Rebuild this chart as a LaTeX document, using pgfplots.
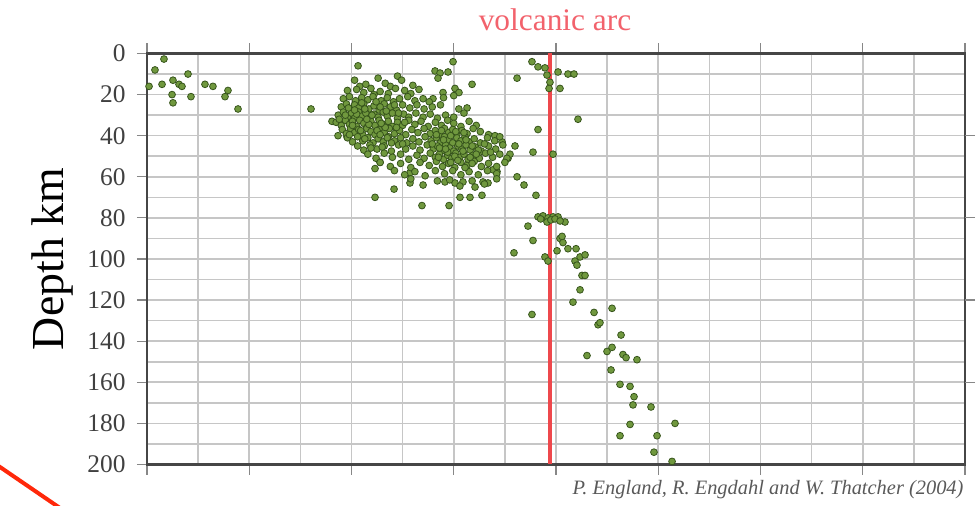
\documentclass[border=0pt]{standalone}
\usepackage{pgfplots}
\pgfplotsset{compat=1.18}
\usepackage{pgfplotstable}
\usepackage{fontspec}
\setmainfont{Liberation Serif}

\definecolor{gridgray}{RGB}{198,198,198}
\definecolor{framegray}{RGB}{70,70,70}
\definecolor{tickgray}{RGB}{135,135,135}
\definecolor{quakefill}{RGB}{112,152,62}
\definecolor{quakeedge}{RGB}{55,85,28}
\definecolor{arcred}{RGB}{238,72,76}
\definecolor{arctext}{RGB}{242,98,108}
\definecolor{slash}{RGB}{255,40,10}

% hypocentres: distance along profile (km), depth (km)
\pgfplotstableread{
x y
16.6 2.7
7.8 8
40.1 10
2.0 16
14.7 15
25.4 13
31.3 15
34.2 16
24.5 20
25.4 24
43.0 21
56.7 15
64.5 16
79.2 18
76.3 21
89.0 27
160.4 27
206.4 6
299.3 4
281.7 8.5
286.6 9.5
294.4 9
284.6 12
317.9 15
301.2 17
305.1 19
279.7 22
289.5 19
313.0 26.5
376.5 4
382.4 6.5
389.2 7
391.2 10.5
402.0 9
411.7 10
417.6 10
394.1 14
403.9 17
393.2 17
361.9 12
382.4 37
377.5 48
397.1 49
361.9 60
368.7 64
380.4 69
421.5 32
223.0 70
241.6 66
268.9 74
295.4 74
306.1 70
315.9 70
327.6 69
301.2 63
309.0 62.5
320.8 65
328.6 62.5
333.5 63
257.2 58
257.2 63
227.9 53
223.0 56
180.9 33
186.8 40
195.6 40.5
340.3 40
347.2 43
359.9 45
353.1 51
342.3 57.5
355.0 49
338.4 56.6
291.4 62.5
203 13
214 15
226 12
233 14.5
245 11
249 13
238 16
260 15.5
208 16
196 18
205 17.5
212 19
219 17
228 18.5
236 19.5
243 17
252 18
258 19.5
266 17.5
222 20
192 22
198 21
204 23
210 21.5
216 22.5
221 21
229 23
235 21.5
241 23.5
247 22
255 21
262 23
270 22
276 23.5
290 21.5
300 20.5
190 26
195 24.5
199 27
203 25
207 26.5
212 24.5
217 27
222 25.5
227 27.5
232 24.5
238 26
244 27.5
250 25
257 26.5
264 25
271 27
279 26
287 25
305 27
187 30
192 28.5
196 31
200 29
203 31.5
207 28.5
210 30.5
214 29
218 31.5
222 29.5
226 31
231 28.5
235 30.5
240 29
245 31.5
251 29.5
256 31
263 29
270 31
277 29.5
284 31.5
292 30
300 31
310 29
185 33.5
190 35
194 32.5
198 34.5
201 33
205 35.5
208 32.5
212 34
215 36
219 33
223 35
227 32.5
231 34.5
236 33
240 35.5
245 33.5
250 35
256 32.5
262 34.5
268 33
275 35.5
282 33.5
288 35
294 32.5
300 34
307 35.5
315 33
322 35
191 37
195 39
199 36.5
203 38.5
207 37
211 39.5
215 36.5
219 38
223 39.5
227 37
232 38.5
237 36.5
242 39
247 37.5
253 39.5
259 37
265 38.5
271 36.5
277 39
282 37.5
287 39.5
291 36.5
295 38.5
299 37
303 39.5
308 37.5
313 39
319 36.5
326 38
334 39.5
196 41
201 43
206 40.5
211 42.5
216 41
221 43.5
226 41.5
231 43
236 40.5
242 42.5
248 41
254 43.5
260 41.5
266 43
272 40.5
278 42.5
283 41
287 43.5
291 40.5
295 42
299 43.5
303 41
307 42.5
311 40.5
315 43
320 41.5
326 43.5
333 41
340 42.5
345 40.5
206 45
212 47
218 44.5
225 46.5
232 45
239 47.5
246 44.5
253 46.5
260 45
267 47
274 44.5
280 46.5
284 45
288 47.5
292 44.5
296 46
300 47.5
304 45
308 46.5
312 44.5
316 47
321 45.5
327 47.5
334 45
341 46.5
348 44.5
216 49
224 51
232 48.5
240 50.5
248 49
256 51.5
264 49.5
271 51
277 48.5
282 50.5
286 49
290 51.5
294 49.5
298 51
302 48.5
306 50.5
310 49
314 51.5
319 49.5
325 51
331 48.5
338 50.5
345 49
352 51
228 53
238 55
248 53.5
258 55.5
267 53
276 54.5
283 52.5
289 55
295 53.5
301 55.5
307 53
313 54.5
320 52.5
327 55
334 53.5
342 55
350 53
242 57
252 59
262 57.5
272 59.5
282 57
291 58.5
299 57
307 59
315 57.5
324 59
333 57
342 58.5
258 61
270 64
284 62
296 61.5
306 64.5
318 62
330 63.5
342 61
197 26.5
205 29.5
213 27
220 30
228 26
234 28
242 25
201 35
209 37.5
217 34.5
225 37.5
233 36
244 36
198 39.5
213 41.5
228 39.5
239 43.5
210 24
224 23.5
246 29
252 33.5
194 30
188 32
230 45.5
219 46
250 44
235 41
203 27.5
215 32
229 34
283 39.5
290 42
297 40
305 44
312 42
318 45
324 47
286 46
294 48
301 50
309 47.5
316 50.5
322 49
279 44
288 37.5
302 38
330 44
336 48
297 53
311 55.5
285 50.5
304 52
318 53.5
292 46.5
310 38.5
382.4 79.5
387.3 79
392.2 80
397.1 79.5
402.0 79.5
408.8 82
391.2 82
385.0 80.5
395.0 81
399.0 80.5
404.0 81.5
372.6 84
377.5 91
358.9 97
403.9 90
406.8 92
405.9 89
411.7 95
419.6 95
401.0 96
389.2 99
392.2 101
418.6 101
420.5 103
423.5 99
428.4 98
425.4 108
428.4 108
423.5 115
416.6 121
376.5 127
437.2 126
454.8 124
441.1 132
443.0 131
463.6 137
430.3 147
449.9 145
454.8 143
465.5 146.5
468.5 148
479.2 149
453.8 154
462.6 161
472.4 162
476.3 167
475.3 171
492.9 172
472.4 180.5
516.4 180
462.6 186
498.8 186
495.8 194
513.5 198.5
}\quakes

\begin{document}
\begin{tikzpicture}[x=1bp,y=1bp]
\path[use as bounding box] (0,0) rectangle (977,506);
\begin{axis}[
  at={(147bp,41.5bp)}, anchor=south west,
  scale only axis, width=818bp, height=411bp,
  xmin=0, xmax=800, ymin=0, ymax=200, y dir=reverse,
  xtick={0,100,...,800}, minor xtick={50,150,...,750}, xticklabels={},
  ytick={0,20,...,200}, minor ytick={10,30,...,190},
  grid=both,
  major grid style={gridgray, line width=1.6bp},
  minor grid style={gridgray, line width=1.6bp},
  tick align=outside, xtick pos=both, ytick pos=left,
  major tick length=10bp, minor tick length=0pt,
  major tick style={tickgray, line width=1.2bp},
  axis line style={framegray, line width=2.2bp},
  /pgf/number format/assume math mode=true,
  yticklabel style={font=\fontsize{25.5}{26}\selectfont, text=black!75, xshift=-8bp},
  ylabel={Depth km},
  ylabel style={font=\fontsize{46}{46}\selectfont, at={(axis description cs:-0.116,0.5)}, anchor=center},
]
\addplot[only marks, mark=*, mark size=3.4bp,
  mark options={fill=quakefill, draw=quakeedge, line width=0.8bp}]
  table[x=x, y=y] {\quakes};
\addplot[arcred, line width=3.5bp] coordinates {(394,0) (394,200)};
\end{axis}
% right-hand ticks
\begin{axis}[
  at={(147bp,41.5bp)}, anchor=south west,
  scale only axis, width=818bp, height=411bp,
  xmin=0, xmax=800, ymin=0, ymax=200, y dir=reverse,
  axis x line=none, axis y line*=right,
  ytick={40,80,120,160}, yticklabels={},
  tick align=outside, major tick length=10bp,
  major tick style={tickgray, line width=1.2bp},
  axis line style={draw=none},
]
\addplot[draw=none] coordinates {(0,0)};
\end{axis}
\node[text=arctext, font=\fontsize{31.5}{32}\selectfont] at (555,486) {volcanic arc};
\node[anchor=east, text=black!65, font=\itshape\fontsize{20.5}{21}\selectfont] at (967,16) {P. England, R. Engdahl and W. Thatcher (2004)};
\draw[slash, line width=4bp] (-5,42.4) -- (62,-3.4);
\end{tikzpicture}
\end{document}
